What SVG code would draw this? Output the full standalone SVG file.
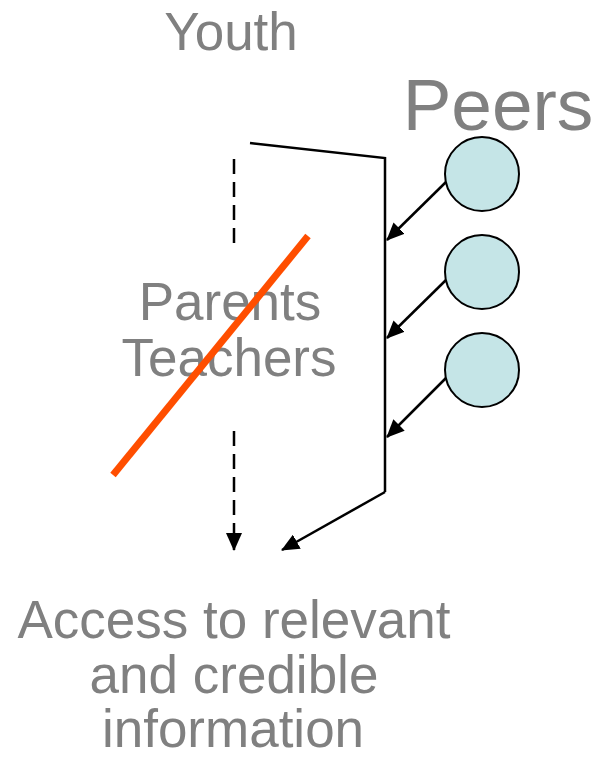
<svg xmlns="http://www.w3.org/2000/svg" width="596" height="757" viewBox="0 0 596 757">
<style>
text{font-family:"Liberation Sans",Arial,sans-serif;fill:#808080;text-anchor:middle}
.t{font-size:53px}
.ln{stroke:#000;stroke-width:2.5;fill:none}
.dash{stroke:#000;stroke-width:2.5;fill:none;stroke-dasharray:15 8}
.peer{fill:#c5e5e7;stroke:#000;stroke-width:2}
</style>
<defs>
<marker id="ah2" markerWidth="18" markerHeight="16" refX="17" refY="8" orient="auto" markerUnits="userSpaceOnUse" viewBox="0 0 18 16">
<path d="M0,0 L18,8 L0,16 z" fill="#000"/>
</marker>
</defs>
<g id="youth"><text class="t" x="231" y="50">Youth</text></g>
<g id="peers-label"><text x="498" y="130" style="font-size:73px">Peers</text></g>
<g id="peer1"><circle class="peer" cx="482" cy="174" r="37"/></g>
<g id="peer2"><circle class="peer" cx="482" cy="272" r="37"/></g>
<g id="peer3"><circle class="peer" cx="482" cy="370" r="37"/></g>
<g id="parents-teachers">
<text class="t" x="230" y="320">Parents</text>
<text class="t" x="229" y="376">Teachers</text>
</g>
<g id="access">
<text class="t" x="234" y="638">Access to relevant</text>
<text class="t" x="234" y="693">and credible</text>
<text class="t" x="233" y="747">information</text>
</g>
<g id="connectors">
<polyline class="ln" points="250,143 385,158 385,492" />
<line class="ln" x1="385" y1="492" x2="282" y2="550" marker-end="url(#ah2)"/>
<line class="dash" x1="234" y1="159" x2="234" y2="248"/>
<line class="dash" x1="234" y1="431" x2="234" y2="550" marker-end="url(#ah2)"/>
<line class="ln" x1="446" y1="182" x2="387" y2="240" marker-end="url(#ah2)"/>
<line class="ln" x1="446" y1="280" x2="387" y2="338" marker-end="url(#ah2)"/>
<line class="ln" x1="446" y1="378" x2="387" y2="437" marker-end="url(#ah2)"/>
<line x1="308" y1="236" x2="113" y2="475" stroke="#ff4e00" stroke-width="7"/>
</g>
</svg>
